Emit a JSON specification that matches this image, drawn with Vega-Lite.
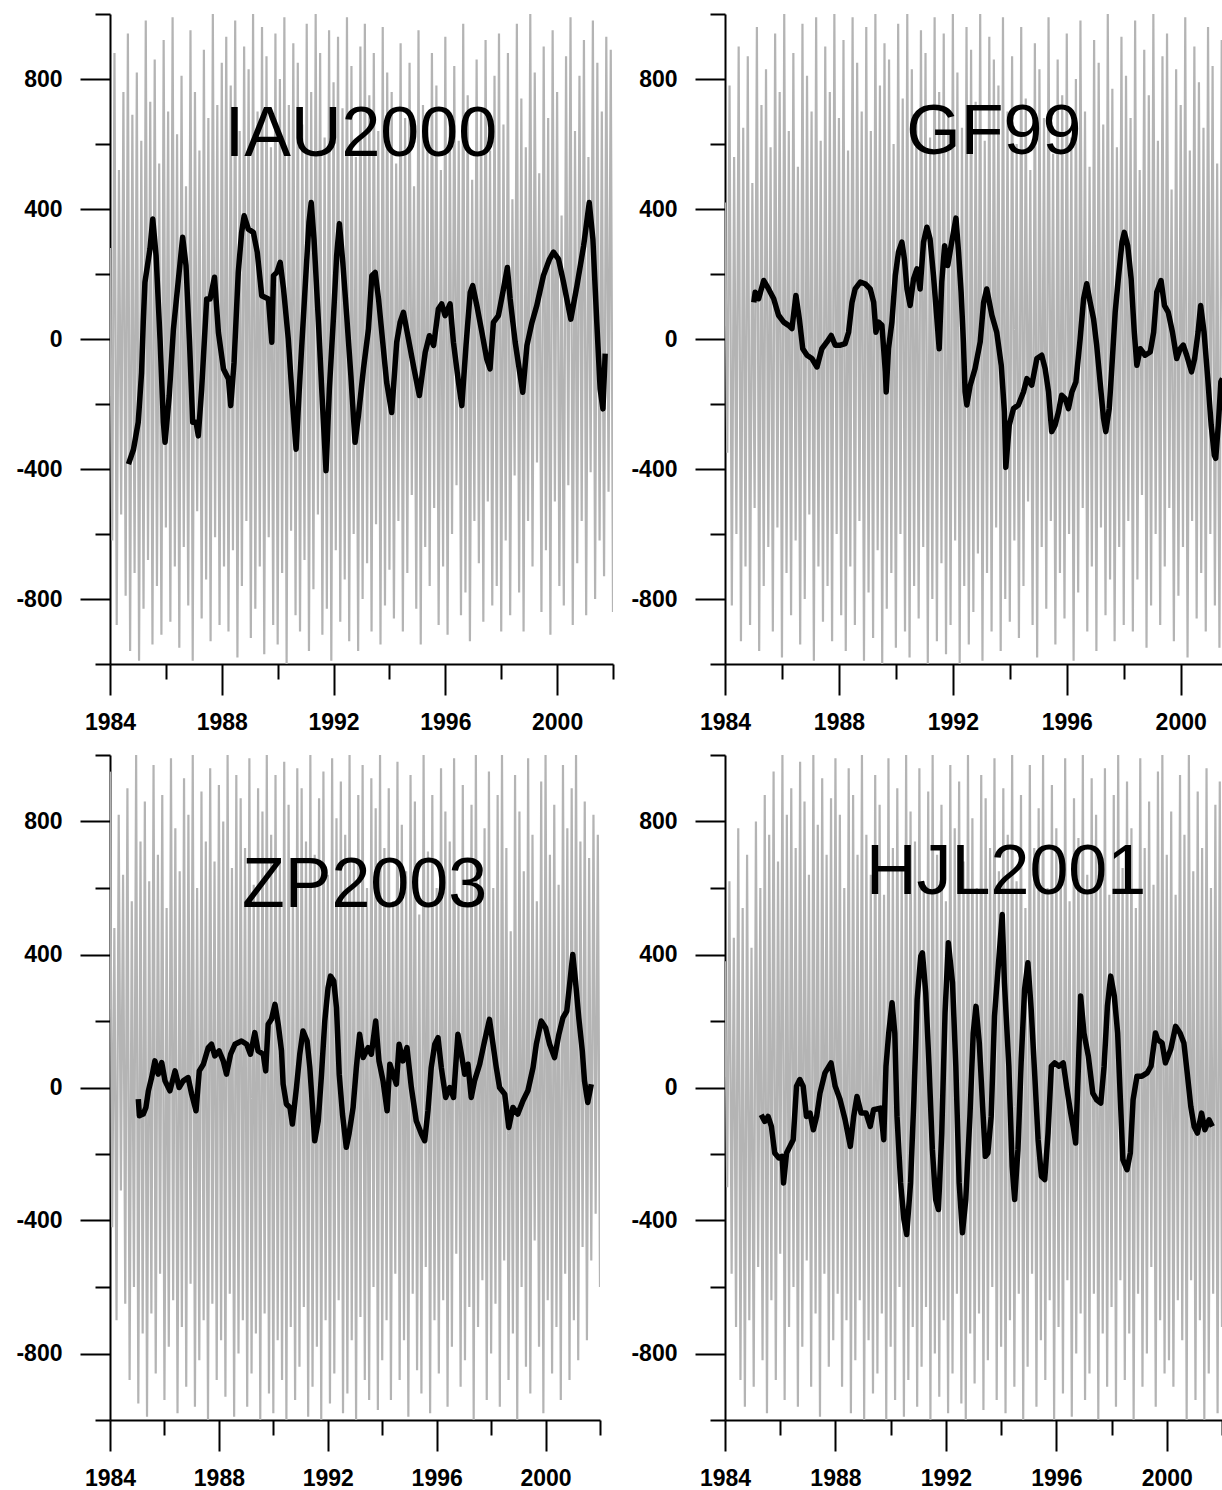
{
"$schema": "https://vega.github.io/schema/vega-lite/v6.json",
"background": "white",
"padding": {"left": 15, "top": 13, "right": 0, "bottom": 0},
"columns": 2,
"spacing": {"row": 20, "column": 16},
"config": {
 "view": {"stroke": null},
 "axis": {"grid": false, "domainColor": "#000000", "domainWidth": 2, "tickColor": "#000000", "tickWidth": 2, "labelColor": "#000000", "labelFont": "Liberation Sans", "labelFontSize": 23, "labelFontWeight": "bold", "labelFlush": false, "labelOverlap": false, "zindex": 1}
},
"datasets": {
"gray": [
{"t":1984.00,"a":280,"b":420,"c":950,"d":380},{"t":1984.08,"a":-620,"b":-350,"c":-420,"d":-300},
{"t":1984.16,"a":880,"b":780,"c":480,"d":620},{"t":1984.24,"a":-880,"b":-820,"c":-700,"d":-560},
{"t":1984.32,"a":520,"b":560,"c":820,"d":450},{"t":1984.40,"a":-540,"b":-600,"c":-310,"d":-720},
{"t":1984.48,"a":760,"b":900,"c":640,"d":780},{"t":1984.56,"a":-790,"b":-930,"c":-650,"d":-880},
{"t":1984.64,"a":940,"b":650,"c":900,"d":540},{"t":1984.72,"a":-960,"b":-700,"c":-880,"d":-960},
{"t":1984.80,"a":690,"b":870,"c":560,"d":700},{"t":1984.88,"a":-720,"b":-880,"c":-600,"d":-700},
{"t":1984.96,"a":820,"b":480,"c":1000,"d":420},{"t":1985.04,"a":-990,"b":-520,"c":-950,"d":-900},
{"t":1985.12,"a":610,"b":960,"c":740,"d":800},{"t":1985.20,"a":-830,"b":-960,"c":-740,"d":-540},
{"t":1985.28,"a":980,"b":720,"c":860,"d":600},{"t":1985.36,"a":-680,"b":-760,"c":-990,"d":-820},
{"t":1985.44,"a":730,"b":830,"c":620,"d":880},{"t":1985.52,"a":-940,"b":-640,"c":-680,"d":-980},
{"t":1985.60,"a":860,"b":590,"c":970,"d":760},{"t":1985.68,"a":-760,"b":-900,"c":-860,"d":-640},
{"t":1985.76,"a":540,"b":940,"c":700,"d":950},{"t":1985.84,"a":-910,"b":-580,"c":-560,"d":-880},
{"t":1985.92,"a":920,"b":760,"c":880,"d":680},{"t":1986.00,"a":-580,"b":-980,"c":-940,"d":-500},
{"t":1986.08,"a":700,"b":1000,"c":540,"d":1000},{"t":1986.16,"a":-870,"b":-720,"c":-780,"d":-940},
{"t":1986.24,"a":990,"b":640,"c":990,"d":820},{"t":1986.32,"a":-700,"b":-850,"c":-640,"d":-720},
{"t":1986.40,"a":630,"b":880,"c":780,"d":900},{"t":1986.48,"a":-950,"b":-620,"c":-980,"d":-600},
{"t":1986.56,"a":810,"b":530,"c":650,"d":720},{"t":1986.64,"a":-640,"b":-940,"c":-720,"d":-960},
{"t":1986.72,"a":470,"b":970,"c":930,"d":980},{"t":1986.80,"a":-820,"b":-800,"c":-900,"d":-780},
{"t":1986.88,"a":950,"b":810,"c":820,"d":860},{"t":1986.96,"a":-990,"b":-540,"c":-590,"d":-520},
{"t":1987.04,"a":760,"b":700,"c":1000,"d":640},{"t":1987.12,"a":-530,"b":-990,"c":-960,"d":-900},
{"t":1987.20,"a":580,"b":990,"c":600,"d":1000},{"t":1987.28,"a":-860,"b":-700,"c":-820,"d":-680},
{"t":1987.36,"a":890,"b":610,"c":890,"d":790},{"t":1987.44,"a":-740,"b":-870,"c":-700,"d":-990},
{"t":1987.52,"a":680,"b":900,"c":740,"d":930},{"t":1987.60,"a":-930,"b":-760,"c":-1000,"d":-560},
{"t":1987.68,"a":1000,"b":760,"c":960,"d":700},{"t":1987.76,"a":-610,"b":-930,"c":-650,"d":-840},
{"t":1987.84,"a":720,"b":1000,"c":680,"d":870},{"t":1987.92,"a":-880,"b":-600,"c":-880,"d":-760},
{"t":1988.00,"a":850,"b":680,"c":910,"d":990},{"t":1988.08,"a":-700,"b":-850,"c":-760,"d":-620},
{"t":1988.16,"a":930,"b":920,"c":800,"d":820},{"t":1988.24,"a":-900,"b":-960,"c":-930,"d":-900},
{"t":1988.32,"a":780,"b":580,"c":1000,"d":600},{"t":1988.40,"a":-650,"b":-700,"c":-620,"d":-700},
{"t":1988.48,"a":980,"b":990,"c":660,"d":960},{"t":1988.56,"a":-980,"b":-880,"c":-990,"d":-980},
{"t":1988.64,"a":640,"b":850,"c":940,"d":880},{"t":1988.72,"a":-760,"b":-560,"c":-800,"d":-820},
{"t":1988.80,"a":900,"b":700,"c":870,"d":700},{"t":1988.88,"a":-560,"b":-990,"c":-700,"d":-640},
{"t":1988.96,"a":830,"b":960,"c":720,"d":1000},{"t":1989.04,"a":-920,"b":-780,"c":-960,"d":-1000},
{"t":1989.12,"a":1000,"b":640,"c":990,"d":760},{"t":1989.20,"a":-830,"b":-920,"c":-860,"d":-760},
{"t":1989.28,"a":700,"b":1000,"c":610,"d":640},{"t":1989.36,"a":-700,"b":-650,"c":-740,"d":-920},
{"t":1989.44,"a":960,"b":780,"c":900,"d":940},{"t":1989.52,"a":-970,"b":-1000,"c":-1000,"d":-860},
{"t":1989.60,"a":870,"b":910,"c":830,"d":850},{"t":1989.68,"a":-610,"b":-830,"c":-680,"d":-680},
{"t":1989.76,"a":590,"b":860,"c":1000,"d":580},{"t":1989.84,"a":-880,"b":-720,"c":-920,"d":-1000},
{"t":1989.92,"a":940,"b":600,"c":760,"d":990},{"t":1990.00,"a":-940,"b":-950,"c":-980,"d":-780},
{"t":1990.08,"a":800,"b":970,"c":940,"d":720},{"t":1990.16,"a":-720,"b":-600,"c":-760,"d":-940},
{"t":1990.24,"a":990,"b":740,"c":680,"d":900},{"t":1990.32,"a":-1000,"b":-900,"c":-880,"d":-600},
{"t":1990.40,"a":720,"b":1000,"c":980,"d":660},{"t":1990.48,"a":-590,"b":-980,"c":-1000,"d":-990},
{"t":1990.56,"a":910,"b":830,"c":850,"d":1000},{"t":1990.64,"a":-850,"b":-760,"c":-720,"d":-880},
{"t":1990.72,"a":850,"b":690,"c":620,"d":830},{"t":1990.80,"a":-900,"b":-860,"c":-940,"d":-720},
{"t":1990.88,"a":660,"b":950,"c":960,"d":740},{"t":1990.96,"a":-680,"b":-640,"c":-840,"d":-960},
{"t":1991.04,"a":970,"b":880,"c":900,"d":960},{"t":1991.12,"a":-960,"b":-1000,"c":-660,"d":-840},
{"t":1991.20,"a":760,"b":620,"c":740,"d":620},{"t":1991.28,"a":-770,"b":-800,"c":-990,"d":-660},
{"t":1991.36,"a":1000,"b":990,"c":1000,"d":890},{"t":1991.44,"a":-540,"b":-930,"c":-900,"d":-1000},
{"t":1991.52,"a":880,"b":760,"c":700,"d":1000},{"t":1991.60,"a":-910,"b":-690,"c":-780,"d":-800},
{"t":1991.68,"a":620,"b":940,"c":870,"d":700},{"t":1991.76,"a":-830,"b":-970,"c":-1000,"d":-930},
{"t":1991.84,"a":950,"b":700,"c":950,"d":850},{"t":1991.92,"a":-990,"b":-880,"c":-700,"d":-700},
{"t":1992.00,"a":790,"b":1000,"c":640,"d":560},{"t":1992.08,"a":-650,"b":-620,"c":-950,"d":-980},
{"t":1992.16,"a":930,"b":820,"c":990,"d":970},{"t":1992.24,"a":-870,"b":-1000,"c":-860,"d":-860},
{"t":1992.32,"a":710,"b":650,"c":810,"d":780},{"t":1992.40,"a":-740,"b":-760,"c":-640,"d":-620},
{"t":1992.48,"a":990,"b":960,"c":920,"d":920},{"t":1992.56,"a":-930,"b":-940,"c":-980,"d":-950},
{"t":1992.64,"a":840,"b":890,"c":760,"d":680},{"t":1992.72,"a":-600,"b":-840,"c":-920,"d":-1000},
{"t":1992.80,"a":560,"b":730,"c":1000,"d":1000},{"t":1992.88,"a":-960,"b":-660,"c":-760,"d":-740},
{"t":1992.96,"a":900,"b":1000,"c":690,"d":810},{"t":1993.04,"a":-800,"b":-990,"c":-1000,"d":-890},
{"t":1993.12,"a":970,"b":610,"c":880,"d":600},{"t":1993.20,"a":-690,"b":-720,"c":-690,"d":-680},
{"t":1993.28,"a":750,"b":930,"c":970,"d":940},{"t":1993.36,"a":-900,"b":-900,"c":-880,"d":-970},
{"t":1993.44,"a":880,"b":860,"c":600,"d":870},{"t":1993.52,"a":-570,"b":-580,"c":-940,"d":-820},
{"t":1993.60,"a":640,"b":780,"c":930,"d":720},{"t":1993.68,"a":-940,"b":-960,"c":-600,"d":-600},
{"t":1993.76,"a":960,"b":990,"c":840,"d":990},{"t":1993.84,"a":-820,"b":-800,"c":-970,"d":-940},
{"t":1993.92,"a":820,"b":700,"c":1000,"d":650},{"t":1994.00,"a":-710,"b":-870,"c":-820,"d":-780},
{"t":1994.08,"a":760,"b":870,"c":720,"d":900},{"t":1994.16,"a":-860,"b":-620,"c":-700,"d":-980},
{"t":1994.24,"a":540,"b":600,"c":900,"d":760},{"t":1994.32,"a":-560,"b":-920,"c":-940,"d":-700},
{"t":1994.40,"a":910,"b":960,"c":560,"d":1000},{"t":1994.48,"a":-900,"b":-760,"c":-560,"d":-900},
{"t":1994.56,"a":680,"b":740,"c":980,"d":620},{"t":1994.64,"a":-720,"b":-500,"c":-880,"d":-620},
{"t":1994.72,"a":850,"b":520,"c":790,"d":880},{"t":1994.80,"a":-480,"b":-880,"c":-760,"d":-1000},
{"t":1994.88,"a":470,"b":910,"c":650,"d":540},{"t":1994.96,"a":-830,"b":-980,"c":-990,"d":-840},
{"t":1995.04,"a":950,"b":830,"c":940,"d":970},{"t":1995.12,"a":-940,"b":-640,"c":-620,"d":-560},
{"t":1995.20,"a":720,"b":680,"c":860,"d":720},{"t":1995.28,"a":-640,"b":-830,"c":-850,"d":-960},
{"t":1995.36,"a":600,"b":990,"c":520,"d":840},{"t":1995.44,"a":-760,"b":-560,"c":-920,"d":-760},
{"t":1995.52,"a":880,"b":570,"c":1000,"d":1000},{"t":1995.60,"a":-520,"b":-940,"c":-540,"d":-880},
{"t":1995.68,"a":780,"b":860,"c":710,"d":600},{"t":1995.76,"a":-880,"b":-720,"c":-980,"d":-640},
{"t":1995.84,"a":520,"b":750,"c":880,"d":910},{"t":1995.92,"a":-700,"b":-860,"c":-700,"d":-1000},
{"t":1996.00,"a":930,"b":940,"c":600,"d":780},{"t":1996.08,"a":-910,"b":-600,"c":-860,"d":-720},
{"t":1996.16,"a":690,"b":620,"c":960,"d":680},{"t":1996.24,"a":-600,"b":-990,"c":-640,"d":-920},
{"t":1996.32,"a":840,"b":800,"c":830,"d":990},{"t":1996.40,"a":-450,"b":-780,"c":-960,"d":-580},
{"t":1996.48,"a":610,"b":980,"c":740,"d":560},{"t":1996.56,"a":-850,"b":-520,"c":-780,"d":-990},
{"t":1996.64,"a":970,"b":700,"c":990,"d":870},{"t":1996.72,"a":-780,"b":-900,"c":-500,"d":-800},
{"t":1996.80,"a":750,"b":530,"c":570,"d":750},{"t":1996.88,"a":-930,"b":-700,"c":-900,"d":-680},
{"t":1996.96,"a":490,"b":920,"c":910,"d":1000},{"t":1997.04,"a":-560,"b":-960,"c":-820,"d":-940},
{"t":1997.12,"a":860,"b":850,"c":690,"d":640},{"t":1997.20,"a":-690,"b":-580,"c":-660,"d":-860},
{"t":1997.28,"a":700,"b":660,"c":850,"d":930},{"t":1997.36,"a":-870,"b":-850,"c":-1000,"d":-620},
{"t":1997.44,"a":920,"b":1000,"c":1000,"d":820},{"t":1997.52,"a":-500,"b":-740,"c":-720,"d":-1000},
{"t":1997.60,"a":580,"b":770,"c":640,"d":700},{"t":1997.68,"a":-820,"b":-930,"c":-580,"d":-740},
{"t":1997.76,"a":810,"b":590,"c":780,"d":960},{"t":1997.84,"a":-760,"b":-640,"c":-940,"d":-900},
{"t":1997.92,"a":940,"b":930,"c":950,"d":580},{"t":1998.00,"a":-900,"b":-880,"c":-800,"d":-660},
{"t":1998.08,"a":660,"b":810,"c":600,"d":880},{"t":1998.16,"a":-620,"b":-560,"c":-650,"d":-960},
{"t":1998.24,"a":880,"b":680,"c":880,"d":1000},{"t":1998.32,"a":-850,"b":-900,"c":-960,"d":-580},
{"t":1998.40,"a":430,"b":980,"c":1000,"d":660},{"t":1998.48,"a":-420,"b":-740,"c":-520,"d":-880},
{"t":1998.56,"a":970,"b":520,"c":720,"d":920},{"t":1998.64,"a":-780,"b":-480,"c":-880,"d":-740},
{"t":1998.72,"a":740,"b":890,"c":470,"d":780},{"t":1998.80,"a":-900,"b":-950,"c":-740,"d":-1000},
{"t":1998.88,"a":590,"b":750,"c":940,"d":540},{"t":1998.96,"a":-560,"b":-820,"c":-1000,"d":-620},
{"t":1999.04,"a":1000,"b":1000,"c":830,"d":990},{"t":1999.12,"a":-700,"b":-600,"c":-600,"d":-900},
{"t":1999.20,"a":820,"b":610,"c":650,"d":720},{"t":1999.28,"a":-380,"b":-880,"c":-840,"d":-800},
{"t":1999.36,"a":510,"b":870,"c":990,"d":860},{"t":1999.44,"a":-840,"b":-700,"c":-920,"d":-540},
{"t":1999.52,"a":900,"b":940,"c":760,"d":610},{"t":1999.60,"a":-650,"b":-520,"c":-460,"d":-960},
{"t":1999.68,"a":680,"b":460,"c":560,"d":950},{"t":1999.76,"a":-910,"b":-930,"c":-780,"d":-700},
{"t":1999.84,"a":950,"b":830,"c":920,"d":1000},{"t":1999.92,"a":-500,"b":-790,"c":-980,"d":-860},
{"t":2000.00,"a":760,"b":720,"c":1000,"d":700},{"t":2000.08,"a":-760,"b":-640,"c":-640,"d":-820},
{"t":2000.16,"a":380,"b":990,"c":700,"d":830},{"t":2000.24,"a":-820,"b":-980,"c":-860,"d":-900},
{"t":2000.32,"a":870,"b":580,"c":850,"d":580},{"t":2000.40,"a":-450,"b":-560,"c":-720,"d":-640},
{"t":2000.48,"a":990,"b":900,"c":610,"d":940},{"t":2000.56,"a":-880,"b":-860,"c":-940,"d":-760},
{"t":2000.64,"a":640,"b":790,"c":970,"d":760},{"t":2000.72,"a":-690,"b":-720,"c":-560,"d":-1000},
{"t":2000.80,"a":810,"b":650,"c":780,"d":1000},{"t":2000.88,"a":-560,"b":-900,"c":-880,"d":-580},
{"t":2000.96,"a":920,"b":960,"c":900,"d":650},{"t":2001.04,"a":-850,"b":-600,"c":-700,"d":-940},
{"t":2001.12,"a":560,"b":840,"c":1000,"d":890},{"t":2001.20,"a":-410,"b":-820,"c":-820,"d":-700},
{"t":2001.28,"a":980,"b":540,"c":740,"d":720},{"t":2001.36,"a":-800,"b":-950,"c":-480,"d":-1000},
{"t":2001.44,"a":850,"b":920,"c":860,"d":960},{"t":2001.52,"a":-620,"b":-500,"c":-760,"d":-860},
{"t":2001.60,"a":700,"b":760,"c":690,"d":600},{"t":2001.68,"a":-730,"b":-760,"c":-520,"d":-620},
{"t":2001.76,"a":930,"b":880,"c":820,"d":850},{"t":2001.84,"a":-470,"b":-880,"c":-380,"d":-980},
{"t":2001.92,"a":890,"b":700,"c":760,"d":920},{"t":2002.00,"a":-840,"b":-680,"c":-600,"d":-720}
],
"b1": [
{"t":1984.66,"v":-385},{"t":1984.84,"v":-340},{"t":1985.01,"v":-256},{"t":1985.13,"v":-103},{"t":1985.19,"v":51},{"t":1985.25,"v":174},{"t":1985.43,"v":277},{"t":1985.53,"v":369},{"t":1985.65,"v":256},{"t":1985.79,"v":0},{"t":1985.91,"v":-256},{"t":1985.97,"v":-318},{"t":1986.12,"v":-174},{"t":1986.27,"v":31},{"t":1986.45,"v":185},{"t":1986.60,"v":313},{"t":1986.72,"v":226},{"t":1986.84,"v":0},{"t":1986.96,"v":-256},{"t":1987.08,"v":-256},{"t":1987.16,"v":-298},{"t":1987.28,"v":-154},{"t":1987.46,"v":123},{"t":1987.58,"v":123},{"t":1987.74,"v":190},{"t":1987.88,"v":20},{"t":1988.06,"v":-92},{"t":1988.24,"v":-123},{"t":1988.32,"v":-205},{"t":1988.44,"v":-72},{"t":1988.59,"v":205},{"t":1988.71,"v":328},{"t":1988.80,"v":379},{"t":1988.95,"v":338},{"t":1989.13,"v":328},{"t":1989.27,"v":267},{"t":1989.43,"v":133},{"t":1989.67,"v":123},{"t":1989.79,"v":-10},{"t":1989.85,"v":195},{"t":1989.97,"v":205},{"t":1990.09,"v":236},{"t":1990.21,"v":154},{"t":1990.38,"v":0},{"t":1990.54,"v":-205},{"t":1990.66,"v":-339},{"t":1990.80,"v":-113},{"t":1990.98,"v":154},{"t":1991.12,"v":359},{"t":1991.20,"v":420},{"t":1991.30,"v":308},{"t":1991.46,"v":51},{"t":1991.60,"v":-195},{"t":1991.73,"v":-405},{"t":1991.85,"v":-154},{"t":1992.00,"v":72},{"t":1992.11,"v":256},{"t":1992.21,"v":355},{"t":1992.33,"v":236},{"t":1992.47,"v":72},{"t":1992.62,"v":-113},{"t":1992.77,"v":-318},{"t":1992.89,"v":-236},{"t":1993.07,"v":-92},{"t":1993.25,"v":31},{"t":1993.37,"v":195},{"t":1993.49,"v":205},{"t":1993.61,"v":123},{"t":1993.76,"v":-10},{"t":1993.90,"v":-133},{"t":1994.08,"v":-226},{"t":1994.26,"v":-10},{"t":1994.38,"v":51},{"t":1994.50,"v":82},{"t":1994.68,"v":0},{"t":1994.88,"v":-92},{"t":1995.07,"v":-174},{"t":1995.28,"v":-41},{"t":1995.43,"v":10},{"t":1995.58,"v":-20},{"t":1995.75,"v":92},{"t":1995.87,"v":108},{"t":1995.99,"v":72},{"t":1996.17,"v":108},{"t":1996.29,"v":-10},{"t":1996.47,"v":-133},{"t":1996.59,"v":-205},{"t":1996.74,"v":-20},{"t":1996.89,"v":143},{"t":1996.98,"v":164},{"t":1997.13,"v":102},{"t":1997.31,"v":20},{"t":1997.48,"v":-61},{"t":1997.60,"v":-92},{"t":1997.72,"v":51},{"t":1997.90,"v":72},{"t":1998.08,"v":154},{"t":1998.22,"v":220},{"t":1998.32,"v":123},{"t":1998.50,"v":-10},{"t":1998.68,"v":-113},{"t":1998.77,"v":-164},{"t":1998.92,"v":-20},{"t":1999.10,"v":51},{"t":1999.27,"v":102},{"t":1999.51,"v":195},{"t":1999.73,"v":246},{"t":1999.87,"v":267},{"t":2000.05,"v":246},{"t":2000.23,"v":174},{"t":2000.49,"v":61},{"t":2000.71,"v":164},{"t":2000.95,"v":287},{"t":2001.15,"v":420},{"t":2001.28,"v":308},{"t":2001.42,"v":51},{"t":2001.54,"v":-154},{"t":2001.64,"v":-215},{"t":2001.72,"v":-45}
],
"b2": [
{"t":1985.01,"v":113},{"t":1985.06,"v":144},{"t":1985.18,"v":124},{"t":1985.36,"v":180},{"t":1985.53,"v":154},{"t":1985.71,"v":124},{"t":1985.88,"v":73},{"t":1986.06,"v":52},{"t":1986.23,"v":42},{"t":1986.35,"v":32},{"t":1986.49,"v":134},{"t":1986.61,"v":62},{"t":1986.73,"v":-30},{"t":1986.88,"v":-50},{"t":1987.05,"v":-60},{"t":1987.23,"v":-86},{"t":1987.40,"v":-30},{"t":1987.58,"v":-9},{"t":1987.73,"v":11},{"t":1987.87,"v":-19},{"t":1988.05,"v":-19},{"t":1988.22,"v":-14},{"t":1988.34,"v":21},{"t":1988.46,"v":113},{"t":1988.57,"v":154},{"t":1988.75,"v":175},{"t":1988.92,"v":170},{"t":1989.10,"v":154},{"t":1989.22,"v":113},{"t":1989.30,"v":21},{"t":1989.39,"v":52},{"t":1989.51,"v":42},{"t":1989.63,"v":-101},{"t":1989.66,"v":-163},{"t":1989.74,"v":-30},{"t":1989.86,"v":52},{"t":1989.98,"v":195},{"t":1990.09,"v":267},{"t":1990.21,"v":298},{"t":1990.30,"v":246},{"t":1990.39,"v":154},{"t":1990.50,"v":103},{"t":1990.62,"v":185},{"t":1990.74,"v":216},{"t":1990.85,"v":154},{"t":1990.97,"v":298},{"t":1991.09,"v":344},{"t":1991.20,"v":308},{"t":1991.32,"v":195},{"t":1991.44,"v":62},{"t":1991.52,"v":-30},{"t":1991.61,"v":175},{"t":1991.71,"v":287},{"t":1991.82,"v":226},{"t":1991.96,"v":298},{"t":1992.11,"v":372},{"t":1992.20,"v":267},{"t":1992.29,"v":144},{"t":1992.37,"v":-9},{"t":1992.43,"v":-162},{"t":1992.49,"v":-203},{"t":1992.61,"v":-142},{"t":1992.78,"v":-91},{"t":1992.96,"v":-9},{"t":1993.08,"v":113},{"t":1993.19,"v":154},{"t":1993.37,"v":73},{"t":1993.54,"v":21},{"t":1993.70,"v":-81},{"t":1993.81,"v":-224},{"t":1993.86,"v":-395},{"t":1993.98,"v":-265},{"t":1994.13,"v":-214},{"t":1994.30,"v":-203},{"t":1994.48,"v":-163},{"t":1994.60,"v":-122},{"t":1994.77,"v":-142},{"t":1994.95,"v":-60},{"t":1995.12,"v":-50},{"t":1995.24,"v":-91},{"t":1995.36,"v":-163},{"t":1995.47,"v":-285},{"t":1995.59,"v":-265},{"t":1995.71,"v":-224},{"t":1995.82,"v":-173},{"t":1995.94,"v":-183},{"t":1996.06,"v":-214},{"t":1996.18,"v":-163},{"t":1996.32,"v":-132},{"t":1996.47,"v":1},{"t":1996.59,"v":124},{"t":1996.70,"v":170},{"t":1996.82,"v":113},{"t":1996.94,"v":62},{"t":1997.05,"v":-19},{"t":1997.17,"v":-132},{"t":1997.29,"v":-244},{"t":1997.37,"v":-285},{"t":1997.49,"v":-214},{"t":1997.58,"v":-91},{"t":1997.70,"v":83},{"t":1997.82,"v":195},{"t":1997.94,"v":298},{"t":1998.02,"v":328},{"t":1998.14,"v":287},{"t":1998.26,"v":185},{"t":1998.37,"v":21},{"t":1998.46,"v":-81},{"t":1998.58,"v":-30},{"t":1998.75,"v":-50},{"t":1998.93,"v":-40},{"t":1999.05,"v":21},{"t":1999.16,"v":144},{"t":1999.31,"v":180},{"t":1999.43,"v":103},{"t":1999.56,"v":83},{"t":1999.71,"v":21},{"t":1999.86,"v":-60},{"t":1999.98,"v":-30},{"t":2000.09,"v":-19},{"t":2000.21,"v":-50},{"t":2000.38,"v":-101},{"t":2000.49,"v":-60},{"t":2000.61,"v":21},{"t":2000.70,"v":103},{"t":2000.82,"v":21},{"t":2000.95,"v":-122},{"t":2001.07,"v":-265},{"t":2001.18,"v":-357},{"t":2001.23,"v":-367},{"t":2001.32,"v":-265},{"t":2001.41,"v":-132},{"t":2001.47,"v":-122}
],
"b3": [
{"t":1985.04,"v":-35},{"t":1985.08,"v":-85},{"t":1985.22,"v":-80},{"t":1985.32,"v":-60},{"t":1985.41,"v":-10},{"t":1985.53,"v":30},{"t":1985.65,"v":80},{"t":1985.77,"v":40},{"t":1985.90,"v":75},{"t":1986.02,"v":20},{"t":1986.20,"v":-10},{"t":1986.39,"v":50},{"t":1986.54,"v":0},{"t":1986.69,"v":20},{"t":1986.87,"v":30},{"t":1987.00,"v":-20},{"t":1987.16,"v":-70},{"t":1987.28,"v":50},{"t":1987.43,"v":70},{"t":1987.61,"v":120},{"t":1987.73,"v":130},{"t":1987.85,"v":95},{"t":1988.01,"v":110},{"t":1988.16,"v":80},{"t":1988.28,"v":40},{"t":1988.43,"v":100},{"t":1988.59,"v":130},{"t":1988.83,"v":140},{"t":1989.02,"v":130},{"t":1989.16,"v":100},{"t":1989.32,"v":165},{"t":1989.44,"v":110},{"t":1989.63,"v":100},{"t":1989.72,"v":50},{"t":1989.81,"v":190},{"t":1989.93,"v":205},{"t":1990.06,"v":250},{"t":1990.18,"v":190},{"t":1990.30,"v":110},{"t":1990.36,"v":10},{"t":1990.48,"v":-50},{"t":1990.61,"v":-60},{"t":1990.70,"v":-110},{"t":1990.85,"v":0},{"t":1990.97,"v":100},{"t":1991.09,"v":170},{"t":1991.24,"v":140},{"t":1991.34,"v":60},{"t":1991.44,"v":-60},{"t":1991.52,"v":-160},{"t":1991.65,"v":-100},{"t":1991.77,"v":40},{"t":1991.89,"v":200},{"t":1992.01,"v":300},{"t":1992.10,"v":335},{"t":1992.22,"v":320},{"t":1992.32,"v":240},{"t":1992.42,"v":40},{"t":1992.54,"v":-80},{"t":1992.68,"v":-180},{"t":1992.78,"v":-140},{"t":1992.93,"v":-60},{"t":1993.05,"v":60},{"t":1993.17,"v":160},{"t":1993.30,"v":90},{"t":1993.48,"v":120},{"t":1993.60,"v":100},{"t":1993.76,"v":200},{"t":1993.88,"v":80},{"t":1994.03,"v":20},{"t":1994.18,"v":-70},{"t":1994.28,"v":70},{"t":1994.40,"v":40},{"t":1994.52,"v":10},{"t":1994.62,"v":130},{"t":1994.76,"v":80},{"t":1994.91,"v":120},{"t":1995.07,"v":0},{"t":1995.25,"v":-100},{"t":1995.44,"v":-140},{"t":1995.56,"v":-160},{"t":1995.68,"v":-70},{"t":1995.80,"v":60},{"t":1995.93,"v":130},{"t":1996.05,"v":150},{"t":1996.17,"v":60},{"t":1996.33,"v":-30},{"t":1996.48,"v":0},{"t":1996.62,"v":-30},{"t":1996.78,"v":160},{"t":1996.91,"v":100},{"t":1997.03,"v":40},{"t":1997.15,"v":70},{"t":1997.27,"v":-30},{"t":1997.39,"v":20},{"t":1997.58,"v":70},{"t":1997.76,"v":140},{"t":1997.94,"v":205},{"t":1998.07,"v":130},{"t":1998.19,"v":60},{"t":1998.31,"v":0},{"t":1998.50,"v":-20},{"t":1998.65,"v":-120},{"t":1998.80,"v":-60},{"t":1998.98,"v":-80},{"t":1999.17,"v":-40},{"t":1999.35,"v":-10},{"t":1999.54,"v":60},{"t":1999.66,"v":130},{"t":1999.84,"v":200},{"t":2000.00,"v":180},{"t":2000.15,"v":130},{"t":2000.33,"v":90},{"t":2000.49,"v":160},{"t":2000.64,"v":210},{"t":2000.78,"v":230},{"t":2000.91,"v":330},{"t":2001.00,"v":400},{"t":2001.10,"v":320},{"t":2001.22,"v":210},{"t":2001.35,"v":110},{"t":2001.43,"v":20},{"t":2001.55,"v":-45},{"t":2001.68,"v":10}
],
"b4": [
{"t":1985.31,"v":-82},{"t":1985.44,"v":-102},{"t":1985.56,"v":-87},{"t":1985.68,"v":-117},{"t":1985.80,"v":-197},{"t":1985.95,"v":-212},{"t":1986.07,"v":-207},{"t":1986.12,"v":-287},{"t":1986.23,"v":-197},{"t":1986.35,"v":-177},{"t":1986.47,"v":-157},{"t":1986.59,"v":4},{"t":1986.71,"v":24},{"t":1986.83,"v":4},{"t":1986.95,"v":-87},{"t":1987.08,"v":-77},{"t":1987.20,"v":-127},{"t":1987.32,"v":-87},{"t":1987.44,"v":-17},{"t":1987.62,"v":44},{"t":1987.84,"v":74},{"t":1987.99,"v":4},{"t":1988.17,"v":-37},{"t":1988.35,"v":-97},{"t":1988.54,"v":-177},{"t":1988.66,"v":-87},{"t":1988.78,"v":-27},{"t":1988.93,"v":-77},{"t":1989.11,"v":-77},{"t":1989.26,"v":-117},{"t":1989.38,"v":-67},{"t":1989.63,"v":-62},{"t":1989.75,"v":-157},{"t":1989.83,"v":64},{"t":1989.93,"v":164},{"t":1990.05,"v":255},{"t":1990.15,"v":164},{"t":1990.23,"v":-87},{"t":1990.36,"v":-287},{"t":1990.48,"v":-397},{"t":1990.58,"v":-442},{"t":1990.72,"v":-287},{"t":1990.84,"v":-37},{"t":1990.96,"v":265},{"t":1991.09,"v":395},{"t":1991.15,"v":405},{"t":1991.27,"v":285},{"t":1991.39,"v":64},{"t":1991.51,"v":-187},{"t":1991.63,"v":-337},{"t":1991.73,"v":-367},{"t":1991.85,"v":-137},{"t":1991.97,"v":225},{"t":1992.09,"v":435},{"t":1992.24,"v":315},{"t":1992.36,"v":64},{"t":1992.48,"v":-287},{"t":1992.60,"v":-437},{"t":1992.72,"v":-337},{"t":1992.87,"v":-87},{"t":1992.99,"v":164},{"t":1993.09,"v":244},{"t":1993.21,"v":134},{"t":1993.33,"v":-57},{"t":1993.43,"v":-207},{"t":1993.52,"v":-197},{"t":1993.64,"v":-87},{"t":1993.76,"v":214},{"t":1993.88,"v":345},{"t":1994.04,"v":520},{"t":1994.12,"v":315},{"t":1994.28,"v":64},{"t":1994.40,"v":-237},{"t":1994.49,"v":-337},{"t":1994.61,"v":-187},{"t":1994.73,"v":84},{"t":1994.85,"v":295},{"t":1994.97,"v":375},{"t":1995.09,"v":234},{"t":1995.22,"v":34},{"t":1995.34,"v":-157},{"t":1995.46,"v":-267},{"t":1995.58,"v":-277},{"t":1995.70,"v":-137},{"t":1995.82,"v":64},{"t":1995.94,"v":74},{"t":1996.10,"v":64},{"t":1996.25,"v":74},{"t":1996.37,"v":4},{"t":1996.52,"v":-77},{"t":1996.61,"v":-117},{"t":1996.70,"v":-167},{"t":1996.80,"v":64},{"t":1996.88,"v":275},{"t":1997.00,"v":164},{"t":1997.16,"v":94},{"t":1997.32,"v":-17},{"t":1997.46,"v":-37},{"t":1997.61,"v":-47},{"t":1997.73,"v":64},{"t":1997.85,"v":245},{"t":1997.97,"v":335},{"t":1998.10,"v":275},{"t":1998.22,"v":164},{"t":1998.32,"v":-37},{"t":1998.41,"v":-217},{"t":1998.56,"v":-247},{"t":1998.68,"v":-197},{"t":1998.78,"v":-37},{"t":1998.92,"v":34},{"t":1999.10,"v":34},{"t":1999.29,"v":44},{"t":1999.43,"v":64},{"t":1999.59,"v":164},{"t":1999.67,"v":144},{"t":1999.83,"v":134},{"t":1999.95,"v":74},{"t":2000.14,"v":114},{"t":2000.32,"v":184},{"t":2000.48,"v":164},{"t":2000.62,"v":134},{"t":2000.74,"v":44},{"t":2000.87,"v":-57},{"t":2000.99,"v":-117},{"t":2001.11,"v":-137},{"t":2001.26,"v":-77},{"t":2001.38,"v":-127},{"t":2001.53,"v":-97},{"t":2001.65,"v":-117}
]
},
"concat": [
{
 "width": 503, "height": 650,
 "layer": [
  {"data": {"name": "gray"}, "mark": {"type": "line", "color": "#b4b4b4", "strokeWidth": 2.2, "clip": true},
   "encoding": {
    "x": {"field": "t", "type": "quantitative", "title": null, "scale": {"domain": [1984, 2002], "nice": false, "zero": false}, "axis": {"values": [1984, 1988, 1992, 1996, 2000], "format": "d", "tickSize": 31, "labelPadding": 16, "orient": "bottom"}},
    "y": {"field": "a", "type": "quantitative", "title": null, "scale": {"domain": [-1000, 1000], "nice": false, "zero": false}, "axis": {"values": [-800, -400, 0, 400, 800], "tickSize": 30, "labelPadding": 18, "orient": "left", "labelExpr": "replace(datum.label, '\u2212', '-')"}}}},
  {"data": {"name": "b1"}, "mark": {"type": "line", "color": "#000000", "strokeWidth": 5.5, "strokeJoin": "round", "clip": true},
   "encoding": {
    "x": {"field": "t", "type": "quantitative", "title": null, "axis": {"values": [1986, 1990, 1994, 1998, 2002], "tickSize": 15, "labels": false, "domain": false, "orient": "bottom"}},
    "y": {"field": "v", "type": "quantitative", "title": null, "axis": {"values": [-1000, -600, -200, 200, 600, 1000], "tickSize": 15, "labels": false, "domain": false, "orient": "left"}}}},
  {"data": {"values": [{"t": 1992.98, "v": 563, "name": "IAU2000"}]}, "mark": {"type": "text", "font": "Liberation Sans", "fontSize": 70, "align": "center", "baseline": "alphabetic", "color": "#000000"},
   "encoding": {"x": {"field": "t", "type": "quantitative", "axis": null}, "y": {"field": "v", "type": "quantitative", "axis": null}, "text": {"field": "name"}}}
 ],
 "resolve": {"axis": {"x": "independent", "y": "independent"}}
},
{
 "width": 497, "height": 650,
 "layer": [
  {"data": {"name": "gray"}, "mark": {"type": "line", "color": "#b4b4b4", "strokeWidth": 2.2, "clip": true},
   "encoding": {
    "x": {"field": "t", "type": "quantitative", "title": null, "scale": {"domain": [1984, 2001.45], "nice": false, "zero": false}, "axis": {"values": [1984, 1988, 1992, 1996, 2000], "format": "d", "tickSize": 31, "labelPadding": 16, "orient": "bottom"}},
    "y": {"field": "b", "type": "quantitative", "title": null, "scale": {"domain": [-1000, 1000], "nice": false, "zero": false}, "axis": {"values": [-800, -400, 0, 400, 800], "tickSize": 30, "labelPadding": 18, "orient": "left", "labelExpr": "replace(datum.label, '\u2212', '-')"}}}},
  {"data": {"name": "b2"}, "mark": {"type": "line", "color": "#000000", "strokeWidth": 5.5, "strokeJoin": "round", "clip": true},
   "encoding": {
    "x": {"field": "t", "type": "quantitative", "title": null, "axis": {"values": [1986, 1990, 1994, 1998], "tickSize": 15, "labels": false, "domain": false, "orient": "bottom"}},
    "y": {"field": "v", "type": "quantitative", "title": null, "axis": {"values": [-1000, -600, -200, 200, 600, 1000], "tickSize": 15, "labels": false, "domain": false, "orient": "left"}}}},
  {"data": {"values": [{"t": 1993.44, "v": 569, "name": "GF99"}]}, "mark": {"type": "text", "font": "Liberation Sans", "fontSize": 70, "align": "center", "baseline": "alphabetic", "color": "#000000"},
   "encoding": {"x": {"field": "t", "type": "quantitative", "axis": null}, "y": {"field": "v", "type": "quantitative", "axis": null}, "text": {"field": "name"}}}
 ],
 "resolve": {"axis": {"x": "independent", "y": "independent"}}
},
{
 "width": 490, "height": 665,
 "layer": [
  {"data": {"name": "gray"}, "mark": {"type": "line", "color": "#b4b4b4", "strokeWidth": 2.2, "clip": true},
   "encoding": {
    "x": {"field": "t", "type": "quantitative", "title": null, "scale": {"domain": [1984, 2002], "nice": false, "zero": false}, "axis": {"values": [1984, 1988, 1992, 1996, 2000], "format": "d", "tickSize": 31, "labelPadding": 16, "orient": "bottom"}},
    "y": {"field": "c", "type": "quantitative", "title": null, "scale": {"domain": [-1000, 1000], "nice": false, "zero": false}, "axis": {"values": [-800, -400, 0, 400, 800], "tickSize": 30, "labelPadding": 18, "orient": "left", "labelExpr": "replace(datum.label, '\u2212', '-')"}}}},
  {"data": {"name": "b3"}, "mark": {"type": "line", "color": "#000000", "strokeWidth": 5.5, "strokeJoin": "round", "clip": true},
   "encoding": {
    "x": {"field": "t", "type": "quantitative", "title": null, "axis": {"values": [1986, 1990, 1994, 1998, 2002], "tickSize": 15, "labels": false, "domain": false, "orient": "bottom"}},
    "y": {"field": "v", "type": "quantitative", "title": null, "axis": {"values": [-1000, -600, -200, 200, 600, 1000], "tickSize": 15, "labels": false, "domain": false, "orient": "left"}}}},
  {"data": {"values": [{"t": 1993.35, "v": 543, "name": "ZP2003"}]}, "mark": {"type": "text", "font": "Liberation Sans", "fontSize": 70, "align": "center", "baseline": "alphabetic", "color": "#000000"},
   "encoding": {"x": {"field": "t", "type": "quantitative", "axis": null}, "y": {"field": "v", "type": "quantitative", "axis": null}, "text": {"field": "name"}}}
 ],
 "resolve": {"axis": {"x": "independent", "y": "independent"}}
},
{
 "width": 497, "height": 665,
 "layer": [
  {"data": {"name": "gray"}, "mark": {"type": "line", "color": "#b4b4b4", "strokeWidth": 2.2, "clip": true},
   "encoding": {
    "x": {"field": "t", "type": "quantitative", "title": null, "scale": {"domain": [1984, 2002], "nice": false, "zero": false}, "axis": {"values": [1984, 1988, 1992, 1996, 2000], "format": "d", "tickSize": 31, "labelPadding": 16, "orient": "bottom"}},
    "y": {"field": "d", "type": "quantitative", "title": null, "scale": {"domain": [-1000, 1000], "nice": false, "zero": false}, "axis": {"values": [-800, -400, 0, 400, 800], "tickSize": 30, "labelPadding": 18, "orient": "left", "labelExpr": "replace(datum.label, '\u2212', '-')"}}}},
  {"data": {"name": "b4"}, "mark": {"type": "line", "color": "#000000", "strokeWidth": 5.5, "strokeJoin": "round", "clip": true},
   "encoding": {
    "x": {"field": "t", "type": "quantitative", "title": null, "axis": {"values": [1986, 1990, 1994, 1998, 2002], "tickSize": 15, "labels": false, "domain": false, "orient": "bottom"}},
    "y": {"field": "v", "type": "quantitative", "title": null, "axis": {"values": [-1000, -600, -200, 200, 600, 1000], "tickSize": 15, "labels": false, "domain": false, "orient": "left"}}}},
  {"data": {"values": [{"t": 1994.18, "v": 582, "name": "HJL2001"}]}, "mark": {"type": "text", "font": "Liberation Sans", "fontSize": 70, "align": "center", "baseline": "alphabetic", "color": "#000000"},
   "encoding": {"x": {"field": "t", "type": "quantitative", "axis": null}, "y": {"field": "v", "type": "quantitative", "axis": null}, "text": {"field": "name"}}}
 ],
 "resolve": {"axis": {"x": "independent", "y": "independent"}}
}
]
}
